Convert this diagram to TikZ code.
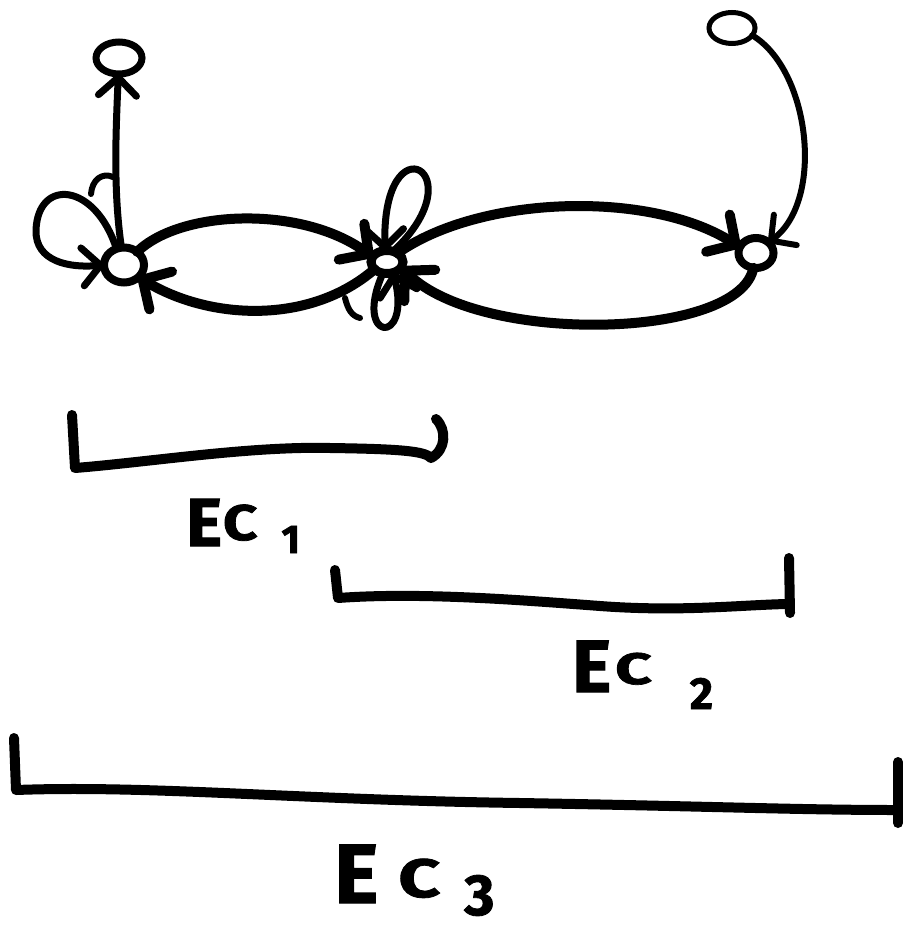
\documentclass[tikz,border=0pt]{standalone}
\usepackage{fontspec}
\setmainfont{Fira Sans}[BoldFeatures={FakeBold=1.5}]
\usetikzlibrary{arrows.meta,shapes.geometric}
\newcommand{\ecsz}[1]{\fontsize{#1pt}{#1pt}\selectfont}
\begin{document}
\begin{tikzpicture}[x=1pt,y=-1pt,
  ink/.style={draw=black,line width=#1,line cap=round,line join=round},
  ink/.default=8pt,
  vtx/.style={ellipse,draw=black,inner sep=0pt,outer sep=0pt},
  tipL/.style={-{Straight Barb[round,length=21pt,width=44pt]}},
  tipS/.style={-{Straight Barb[round,length=18pt,width=38pt]}},
  lbl/.style={anchor=base west,inner sep=0pt,font=\bfseries}]
\fill[white] (0,0) rectangle (906,933);
\useasboundingbox (0,0) rectangle (906,933);

% vertices
\node[vtx,line width=8pt,minimum width=40pt,minimum height=35pt] (A) at (124,265) {};
\node[vtx,line width=9pt,minimum width=32pt,minimum height=23pt] (B) at (387,262) {};
\node[vtx,line width=8pt,minimum width=35pt,minimum height=30pt] (C) at (756,253) {};
\node[vtx,line width=7pt,minimum width=46pt,minimum height=32pt] (T1) at (119,58) {};
\node[vtx,line width=5pt,minimum width=46pt,minimum height=31pt] (T2) at (732,28) {};

% edges around A
\draw[ink=7pt,tipS] (A) .. controls (113,190) and (116,130) .. (T1);
\draw[ink=7pt,tipS] (A.115) .. controls (95,182) and (38,178) .. (36,230)
   .. controls (35,262) and (70,268) .. (A.west);
\draw[ink=6pt] (91,194) .. controls (92,180) and (102,172) .. (113,177);

% A <-> B
\draw[ink=10pt,tipL] (A.45) .. controls (180,210) and (300,205) .. (B.160);
\draw[ink=10pt,tipL] (B.210) .. controls (310,325) and (210,320) .. (A.-40);

% loops at B
\draw[ink=7pt,tipS] (B.60) .. controls (478,172) and (382,118) .. (B.100);
\draw[ink=7pt,tipS] (B.-110) .. controls (352,342) and (412,347) .. (B.-60);
\draw[ink=6pt] (345,298) .. controls (348,310) and (352,316) .. (360,318);

% B <-> C
\draw[ink=10pt,tipL] (B.40) .. controls (480,195) and (650,190) .. (C.160);
\draw[ink=10pt,tipL] (C.-100) .. controls (740,340) and (480,345) .. (B.-20);

% T2 -> C
\draw[ink=6pt,tipS] (T2.-20) .. controls (810,70) and (825,200) .. (C.40);

% brackets
\draw[ink=10pt] (72,415) -- (75,468) .. controls (150,462) and (250,446) .. (330,448)
   .. controls (400,449) and (425,451) .. (431,458)
   .. controls (446,450) and (447,430) .. (436,419);
\draw[ink=10pt] (335,570) -- (338,598) .. controls (420,592) and (520,600) .. (600,606)
   .. controls (680,612) and (740,605) .. (787,604);
\draw[ink=10pt] (789,558) -- (790,613);
\draw[ink=10pt] (14,738) -- (16,790) .. controls (150,785) and (300,800) .. (520,803)
   .. controls (700,806) and (800,810) .. (895,810);
\draw[ink=10pt] (898,762) -- (898,823);

% labels
\node[lbl] (L1) at (186,546) {\ecsz{68}E\hspace{1pt}\raisebox{6pt}{\scalebox{1.2}[1]{\ecsz{50}C}}\hspace{24pt}\raisebox{-7pt}{\ecsz{40}1}};
\node[lbl] (L2) at (572,692) {\ecsz{74}E\hspace{4pt}\raisebox{8pt}{\scalebox{1.45}[1]{\ecsz{44}C}}\hspace{38pt}\raisebox{-17pt}{\ecsz{45}2}};
\node[lbl] (L3) at (334,903) {\ecsz{84}E\hspace{20pt}\raisebox{6pt}{\scalebox{1.35}[1]{\ecsz{54}C}}\hspace{24pt}\raisebox{-12pt}{\ecsz{58}3}};
\end{tikzpicture}
\end{document}
